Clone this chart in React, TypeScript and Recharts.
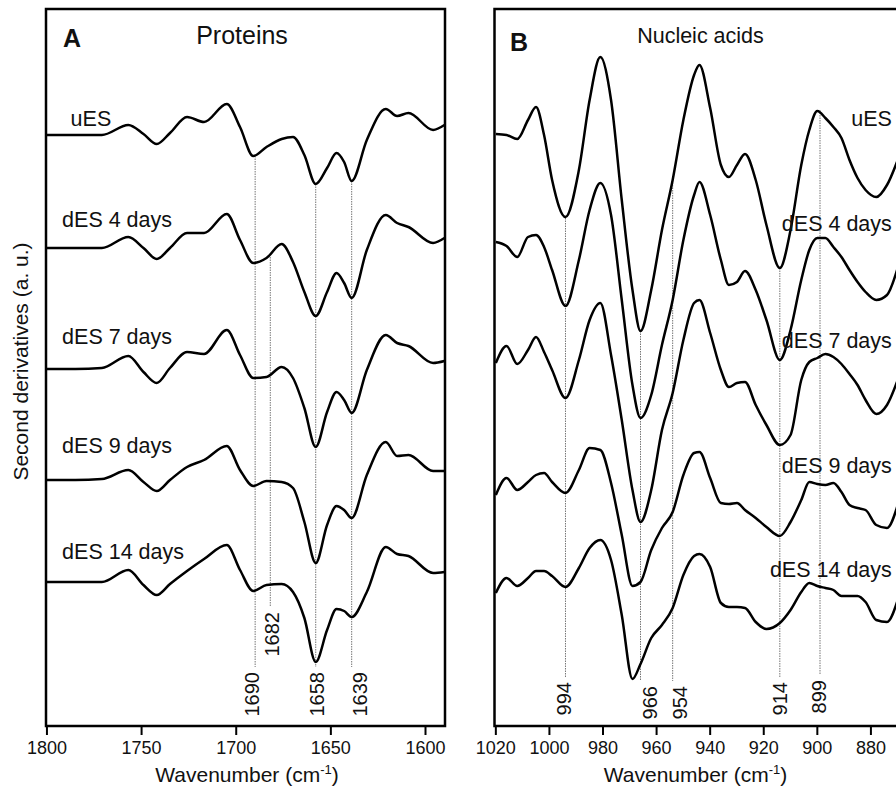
import React from "react";
import {
  LineChart,
  Line,
  XAxis,
  YAxis,
  ReferenceLine,
  ReferenceArea,
  ReferenceDot,
} from "recharts";

const FONT = '"Liberation Sans", Arial, Helvetica, sans-serif';

// ---------- Panel A: proteins (amide I), second derivatives ----------
const wnA = [1800, 1785, 1771, 1757, 1749, 1742, 1735, 1726, 1717, 1705, 1698, 1691, 1684, 1676, 1670, 1664, 1658, 1652, 1647, 1643, 1639, 1631, 1621, 1615, 1609, 1596, 1590];
const uesA = [0, 0, 0, 10, 1, -9, 2, 18, 13, 31, 8, -21, -12, -4, -2, -20, -49, -33, -18, -27, -46, -5, 26, 19, 22, 5, 10];
const des4A = [0, 0, 0, 11, 0, -11, 0, 15, 15, 34, 8, -15, -10, 4, -14, -44, -68, -44, -25, -35, -50, -2, 33, 25, 21, 5, 10];
const des7A = [0, 0, 1, 13, -3, -14, 1, 17, 15, 39, 14, -9, -8, 2, -9, -39, -78, -43, -23, -31, -44, -1, 34, 26, 23, 6, 8];
const des9A = [0, 0, 1, 10, -2, -11, 0, 13, 20, 34, 10, -6, -1, -2, -8, -42, -83, -45, -26, -30, -38, 5, 38, 24, 25, 9, 9];
const des14A = [0, 0, 0, 12, -3, -13, -2, 11, 23, 37, 12, -9, -3, -2, -10, -36, -80, -48, -27, -29, -35, -10, 35, 28, 26, 9, 10];
const offsetsA = [591, 478, 357, 246, 144];
const peaksA = [1690, 1682, 1658, 1639];
const peakTopA = [570, 469, 542, 545];
const peakBottomA = [59, 119, 59, 59];

// ---------- Panel B: nucleic acids ----------
const wnB = [1020, 1016, 1012, 1008, 1005, 1002, 999, 994, 989, 985, 981, 977, 973, 969, 966, 962, 958, 954, 950, 946, 944, 940, 936, 933, 930, 927, 923, 919, 914, 910, 906, 903, 900, 897, 894, 891, 888, 885, 882, 878, 874, 870];
const uesB = [0, -1, -5, 14, 27, -1, -46, -83, -36, 34, 77, 34, -66, -156, -197, -156, -96, -46, 14, 59, 69, 26, -31, -43, -31, -20, -46, -91, -134, -96, -31, 4, 23, 16, 7, -4, -26, -44, -56, -63, -51, -26];
const des4B = [0, -4, -15, 5, 7, -5, -28, -64, -18, 32, 59, 27, -58, -143, -176, -153, -103, -58, 2, 47, 60, 27, -18, -43, -40, -29, -48, -78, -118, -88, -38, -8, 4, 4, -5, -15, -28, -40, -50, -58, -53, -26];
const des7B = [0, 17, -1, 13, 26, 11, -7, -35, 3, 43, 60, 8, -57, -127, -159, -127, -67, -30, 23, 60, 63, 30, -7, -24, -20, -19, -42, -62, -82, -72, -17, 1, 5, 9, 6, -1, -11, -22, -37, -51, -42, -17];
const des9B = [0, 17, 5, 13, 20, 22, 13, 2, 25, 47, 45, 12, -40, -91, -87, -55, -33, -17, 20, 42, 43, 17, -8, -9, -8, -15, -23, -32, -41, -27, -5, 13, 11, 10, 12, 3, -10, -13, -15, -30, -33, -10];
const des14B = [0, 15, 7, 15, 22, 22, 17, 6, 25, 45, 53, 33, -22, -86, -71, -45, -32, -15, 18, 37, 39, 26, -10, -14, -14, -15, -29, -36, -30, -17, 1, 10, 7, 5, 3, -3, -3, -3, -9, -27, -29, -7];
const offsetsB = [592, 484, 363, 231, 133];
const peaksB = [994, 966, 954, 914, 899];
const peakTopB = [508, 395, 546, 458, 616];
const peakBottomB = [49, 45, 45, 49, 51];

const sampleNames = ["uES", "dES 4 days", "dES 7 days", "dES 9 days", "dES 14 days"];
const ticksA = [1800, 1750, 1700, 1650, 1600];
const ticksB = [1020, 1000, 980, 960, 940, 920, 900, 880];

const Y_MAX = 717;

type PanelCfg = {
  left: number;
  width: number;
  marginRight: number;
  yWidth: number;
  domain: [number, number];
  ticks: number[];
  wn: number[];
  series: number[][];
  offsets: number[];
  peaks: number[];
  peakTop: number[];
  peakBottom: number[];
  peakShift: number[];
  labelWn: number[];
  labelDy: number[];
  labelAnchor: "start" | "end";
  letter: string;
  letterDx: number;
  letterDy: number;
  title: string;
  titleSize: number;
  titleDx: number;
  titleDy: number;
  yTitle?: string;
};

const Panel = ({ cfg }: { cfg: PanelCfg }) => {
  const data = cfg.wn.map((w, i) => {
    const row: Record<string, number> = { wn: w };
    cfg.series.forEach((s, k) => {
      row[`s${k}`] = cfg.offsets[k] + s[i];
    });
    return row;
  });

  const frameLabel = (p: any) => {
    const { x, y } = p.viewBox;
    return (
      <g fontFamily={FONT} fill="#111">
        <text x={x + cfg.letterDx} y={y + cfg.letterDy} fontSize={25} fontWeight="bold">
          {cfg.letter}
        </text>
        <text x={x + cfg.titleDx} y={y + cfg.titleDy} fontSize={cfg.titleSize} textAnchor="middle">
          {cfg.title}
        </text>
      </g>
    );
  };

  const xTitle = (p: any) => {
    const vb = p.viewBox;
    return (
      <text x={vb.x + 201} y={vb.y + 56} textAnchor="middle" fontSize={21} fontFamily={FONT} fill="#111">
        Wavenumber (cm
        <tspan dy={-8} fontSize={13}>-1</tspan>
        <tspan dy={8}>)</tspan>
      </text>
    );
  };

  const yTitle = (p: any) => {
    const vb = p.viewBox;
    const x = vb.x + 28;
    const y = vb.y + vb.height / 2 - 6;
    return (
      <text x={x} y={y} transform={`rotate(-90 ${x} ${y})`} textAnchor="middle" fontSize={21} fontFamily={FONT} fill="#111">
        {cfg.yTitle}
      </text>
    );
  };

  return (
    <div style={{ position: "absolute", left: cfg.left, top: 0 }}>
      <LineChart width={cfg.width} height={788} data={data} margin={{ top: 9, right: cfg.marginRight, bottom: 0, left: 0 }}>
        <XAxis
          dataKey="wn"
          type="number"
          domain={cfg.domain}
          reversed
          allowDataOverflow
          ticks={cfg.ticks}
          height={62}
          axisLine={false}
          tickSize={9}
          tickMargin={6}
          tickLine={{ stroke: "#000", strokeWidth: 2 }}
          tick={{ fill: "#111", fontSize: 18, fontFamily: FONT }}
          label={xTitle}
        />
        <YAxis
          type="number"
          domain={[0, Y_MAX]}
          allowDataOverflow
          width={cfg.yWidth}
          tick={false}
          axisLine={false}
          tickLine={false}
          label={cfg.yTitle ? yTitle : undefined}
        />
        {/* dotted peak markers */}
        {cfg.peaks.map((pk, i) => (
          <ReferenceLine
            key={`p${pk}`}
            segment={[
              { x: pk, y: cfg.peakTop[i] },
              { x: pk, y: cfg.peakBottom[i] },
            ]}
            stroke="#777"
            strokeWidth={1}
            strokeDasharray="1.5 1"
          />
        ))}
        {/* rotated wavenumber labels just under each marker */}
        {cfg.peaks.map((pk, i) => (
          <ReferenceDot
            key={`pl${pk}`}
            x={pk}
            y={cfg.peakBottom[i] - 5}
            r={1}
            fill="none"
            stroke="none"
            label={(p: any) => {
              const vb = p.viewBox;
              const x = vb.x + vb.width / 2 + cfg.peakShift[i] + 7.2;
              const y = vb.y + vb.height / 2;
              return (
                <text x={x} y={y} transform={`rotate(-90 ${x} ${y})`} textAnchor="end" fontSize={20} fontFamily={FONT} fill="#111">
                  {pk}
                </text>
              );
            }}
          />
        ))}
        {cfg.series.map((_, k) => (
          <Line
            key={`s${k}`}
            dataKey={`s${k}`}
            type="monotone"
            stroke="#000"
            strokeWidth={2.5}
            dot={false}
            isAnimationActive={false}
          />
        ))}
        {sampleNames.map((name, k) => (
          <ReferenceDot
            key={name}
            x={cfg.labelWn[k]}
            y={cfg.offsets[k] + cfg.labelDy[k]}
            r={1}
            fill="none"
            stroke="none"
            label={(p: any) => {
              const vb = p.viewBox;
              return (
                <text
                  x={vb.x + vb.width / 2}
                  y={vb.y + vb.height / 2}
                  textAnchor={cfg.labelAnchor}
                  fontSize={21.5}
                  fontFamily={FONT}
                  fill="#111"
                >
                  {name}
                </text>
              );
            }}
          />
        ))}
        {/* panel frame */}
        <ReferenceArea
          x1={cfg.domain[0]}
          x2={cfg.domain[1]}
          y1={0}
          y2={Y_MAX}
          fill="none"
          stroke="#000"
          strokeWidth={2.5}
          label={frameLabel}
        />
      </LineChart>
    </div>
  );
};

const panelA: PanelCfg = {
  left: 0,
  width: 460,
  marginRight: 15,
  yWidth: 46,
  domain: [1589.7, 1800.5],
  ticks: ticksA,
  wn: wnA,
  series: [uesA, des4A, des7A, des9A, des14A],
  offsets: offsetsA,
  peaks: peaksA,
  peakTop: peakTopA,
  peakBottom: peakBottomA,
  peakShift: [-3, 2, 1, 8],
  labelWn: [1787.5, 1792, 1792, 1792, 1792],
  labelDy: [9, 21, 25, 27, 23],
  labelAnchor: "start",
  letter: "A",
  letterDx: 17,
  letterDy: 37.7,
  title: "Proteins",
  titleSize: 25,
  titleDx: 196,
  titleDy: 35,
  yTitle: "Second derivatives (a. u.)",
};

const panelB: PanelCfg = {
  left: 470,
  width: 464.5,
  marginRight: 10,
  yWidth: 24.5,
  domain: [860, 1020.5],
  ticks: ticksB,
  wn: wnB,
  series: [uesB, des4B, des7B, des9B, des14B],
  offsets: offsetsB,
  peaks: peaksB,
  peakTop: peakTopB,
  peakBottom: peakBottomB,
  peakShift: [-1.5, 9.5, 7.5, 0, -1],
  labelWn: [872.2, 872.2, 872.2, 872.2, 872.2],
  labelDy: [8, 11, 15, 22, 16],
  labelAnchor: "end",
  letter: "B",
  letterDx: 15.5,
  letterDy: 41.7,
  title: "Nucleic acids",
  titleSize: 21.5,
  titleDx: 206,
  titleDy: 34.3,
};

export default function App() {
  return (
    <div
      style={{
        position: "absolute",
        left: 0,
        top: 0,
        width: 896,
        height: 788,
        overflow: "hidden",
        background: "#fff",
      }}
    >
      <Panel cfg={panelA} />
      <Panel cfg={panelB} />
    </div>
  );
}
